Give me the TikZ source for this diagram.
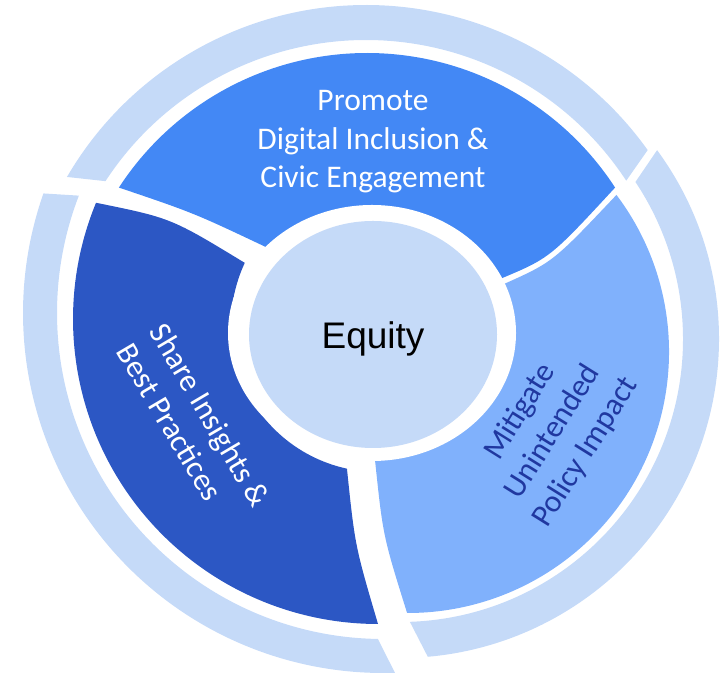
\documentclass[tikz,border=0pt]{standalone}
\usepackage{fontspec}
\setmainfont{Carlito}
\newfontfamily\equityfont{Liberation Sans}
\definecolor{ringblue}{RGB}{197,218,248}
\definecolor{promoteblue}{RGB}{67,136,245}
\definecolor{shareblue}{RGB}{44,87,196}
\definecolor{mitigateblue}{RGB}{128,177,252}
\definecolor{mitigatetext}{RGB}{32,56,160}
\tikzset{
  ringpiece/.style={fill=ringblue},
  segtext/.style={inner sep=0pt, font=\fontsize{31.5}{38.5}\selectfont},
}
\begin{document}
\begin{tikzpicture}[x=1pt,y=1pt]
    \useasboundingbox (0,0) rectangle (722,676);
    \coordinate (cT) at (366,325);
    \coordinate (cR) at (400,337);
    \coordinate (cL) at (383,363);
    \coordinate (cP) at (367,327);
    \coordinate (cM) at (408,324);
    \coordinate (cS) at (378,357);
    \coordinate (cSi) at (378,351);
    \coordinate (cE) at (372,343);
    % outer ring
    \fill [ringpiece] ([shift={(149.8:346pt)}]cT) arc (149.8:35.5:346pt) -- ([shift={(33.2:311pt)}]cT) arc (33.2:146.9:311pt) -- cycle;
    \fill [ringpiece] ([shift={(36.3:319pt)}]cR) arc (36.3:-85:319pt) -- ([shift={(-88:283pt)}]cR) arc (-88:33.7:283pt) -- cycle;
    \fill [ringpiece] ([shift={(160.6:360pt)}]cL) arc (160.6:271.9:360pt) -- ([shift={(269.1:326pt)}]cL) arc (269.1:158.9:326pt) -- cycle;
    % segments
    \coordinate (p1) at ([shift={(146.95:296pt)}]cP);
    \fill [promoteblue] (p1) arc (146.95:33.05:296pt) .. controls (550,418) .. (500,397) -- (cE) -- (270,427) .. controls (194,463) .. (p1) -- cycle;
    \coordinate (m1) at ([shift={(37:261pt)}]cM);
    \fill [mitigateblue] (m1) arc (37:-90.2:261pt) .. controls (383,140) .. (375,216) -- (cE) -- (504,392) .. controls (553,414) .. (m1) -- cycle;
    \coordinate (s1) at ([shift={(157.6:305pt)}]cS);
    \coordinate (s3) at ([shift={(257.8:147pt)}]cSi);
    \fill [shareblue] (s1) arc (157.6:270:305pt) .. controls (355,130) .. (s3) arc (257.8:155:147pt) .. controls (171,458) .. (s1) -- cycle;
    % centre
    \fill [white] (cE) ellipse (144pt and 128pt);
    \fill [ringpiece] (373,341.5) ellipse (124pt and 113.5pt);
    \node [inner sep=0pt, font=\equityfont\fontsize{37}{42}\selectfont] (equity) at (373,337) {Equity};
    \node [segtext, white, align=center] (promote) at (373,534) {Promote\\Digital Inclusion \&\\Civic Engagement};
    \node [segtext, white, align=left, rotate=-59.5] (share) at (194,251) {Share Insights \&\\Best Practices};
    \node [segtext, mitigatetext, align=center, rotate=58] (mitigate) at (553,244) {Mitigate\\Unintended\\Policy Impact};
\end{tikzpicture}
\end{document}
